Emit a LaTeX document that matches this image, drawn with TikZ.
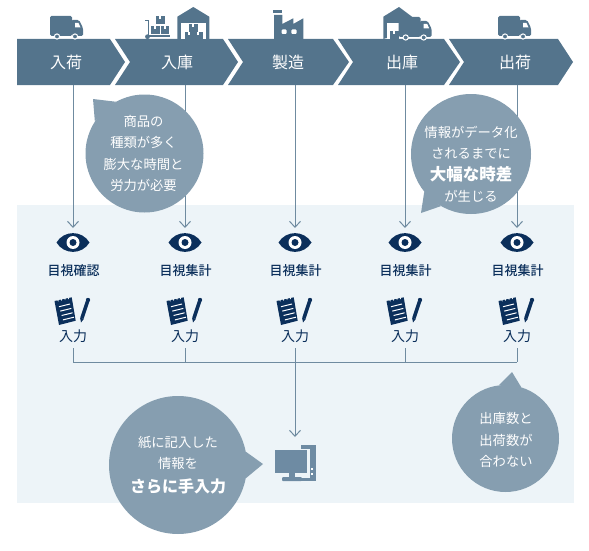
\documentclass[tikz,border=0pt]{standalone}
\usepackage{fontspec}
\setmainfont{Noto Sans CJK JP}
\newfontfamily\medfont{Noto Sans CJK JP Medium}
\usetikzlibrary{arrows.meta}
\definecolor{bandblue}{HTML}{54748C}
\definecolor{bubblegray}{HTML}{869EB0}
\definecolor{linegray}{HTML}{6F8BA0}
\definecolor{palebg}{HTML}{EDF4F8}
\definecolor{navy}{HTML}{0B2F5B}
\definecolor{pcblue}{HTML}{6E8BA3}
\tikzset{
  stepnode/.style={text=white,font=\fontsize{16}{16}\selectfont,minimum height=46pt,inner sep=0},
  readnode/.style={text=navy,font=\medfont\fontsize{13}{13}\selectfont,inner sep=0},
  keynode/.style={text=navy,font=\fontsize{14}{14}\selectfont,minimum height=24pt,inner sep=0},
  flow/.style={draw=linegray,line width=1pt},
  bubble/.style={circle,fill=bubblegray,inner sep=0},
  bubbletext/.style={text=white,align=center,inner sep=0,font=\fontsize{13.3}{21.5}\selectfont},
  truck/.pic={
    \fill[bandblue,rounded corners=1.5pt] (0,0) rectangle (22,20);
    \fill[bandblue,rounded corners=1.5pt] (21,4) -- (29,4) -- (33,12) -- (33,20) -- (21,20) -- cycle;
    \fill[white] (25,7) -- (28.5,7) -- (30.5,11.5) -- (25,11.5) -- cycle;
    \fill[bandblue,draw=white,line width=1pt] (7,20.5) circle (2.6);
    \fill[bandblue,draw=white,line width=1pt] (25,20.5) circle (2.6);
  },
  eye/.pic={
    \fill[navy] (-16.5,0) .. controls (-9,-12.5) and (9,-12.5) .. (16.5,0) .. controls (9,12.5) and (-9,12.5) .. (-16.5,0) -- cycle;
    \fill[white] (0,0) circle (6.5);
    \fill[navy] (0,0) circle (3.5);
  },
  memo/.pic={
    \fill[navy] (-18.5,-9) -- (-1.3,-12.7) -- (2.7,10.7) -- (-14,15) -- cycle;
    \foreach \k in {0,1,2,3}
      \draw[white,line width=1pt] (-14+1.3*\k,-3.3+4.4*\k) -- (-3+1.3*\k,-6+4.4*\k);
    \foreach \k in {1,2,3,4}
      \fill[palebg] (-18.5+3.45*\k-0.8,-9-0.74*\k-0.6) -- (-18.5+3.45*\k+0.8,-9-0.74*\k-0.9) -- (-18.5+3.45*\k+0.3,-9-0.74*\k+1.4) -- cycle;
    \draw[navy,line width=3.6pt] (14.5,-8.5) -- (9,8);
    \fill[navy] (7,7.5) -- (11,8.7) -- (8,12.5) -- cycle;
    \fill[navy] (15,-10) circle (2.2);
  },
  crate/.pic={
    \fill[bandblue] (0,0) rectangle (8.5,8);
    \fill[white] (3.2,0) rectangle (5.3,3);
  },
}
\begin{document}
\begin{tikzpicture}[x=1pt,y=-1pt,>={Straight Barb[length=6pt,width=11pt]}]
\useasboundingbox (0,0) rectangle (589,551);
\fill[palebg] (17,205) rectangle (574,503);

% process band
\foreach \l/\n/\r/\t in {17/17/110/125,115/130/223/238,228/243/333/349,338/353/444/460,449/464/558/573}
  \fill[bandblue] (\l,39) -- (\r,39) -- (\t,62) -- (\r,85) -- (\l,85) -- (\n,62) -- cycle;

% icons above the band
\pic at (50,16) {truck};
\pic at (498,16) {truck};
% hand cart
\draw[bandblue,line width=1.2pt] (145,20.7) -- (148.3,20.7) -- (148.3,36) -- (170,36);
\fill[bandblue] (147.5,36.7) circle (2.4);
\pic at (156,16) {crate};
\pic at (151,26) {crate};
\pic at (160.7,26) {crate};
% warehouse
\fill[bandblue] (193.3,7) -- (209.3,16.7) -- (209.3,39) -- (177.3,39) -- (177.3,16.7) -- cycle;
\fill[white] (181,23.3) rectangle (205.7,39);
\pic at (189,24) {crate};
\pic at (185,32) {crate};
\pic at (194,32) {crate};
% factory
\fill[bandblue] (274,39) -- (274,15) -- (282.3,15) -- (282.3,24) -- (293.3,18.3) -- (293.3,24) -- (303.3,18.3) -- (303.3,39) -- cycle;
\fill[bandblue] (273.3,10) rectangle (282.3,12.7);
\fill[white,rounded corners=1pt] (281.7,29.5) rectangle (286.7,34);
\fill[white,rounded corners=1pt] (291.3,29.5) rectangle (296.7,34);
% warehouse with truck
\fill[bandblue] (399,7) -- (412,16.7) -- (412,30) -- (383.3,39) -- (383.3,16.7) -- cycle;
\fill[white] (387.3,22.7) rectangle (399,39);
\pic at (390,31) {crate};
\pic at (398.7,17) {truck};

% steps and the columns below them
\foreach \i/\tx/\lx/\step/\read in {1/66/73/入荷/目視確認,2/177/185/入庫/目視集計,3/288/295/製造/目視集計,4/402/405/出庫/目視集計,5/515/517/出荷/目視集計}{
  \node[stepnode] (step\i) at (\tx,62) {\step};
  \coordinate (into\i) at (\lx,228);
  \draw[flow,->] (step\i.south -| into\i) -- (into\i);
  \pic at (\lx,242.5) {eye};
  \node[readnode] (read\i) at (\lx+0.5,271) {\read};
  \pic at (\lx,310) {memo};
  \node[keynode] (key\i) at (\lx,336) {入力};
}

% collecting line
\coordinate (hub) at (295,362);
\coordinate (pc) at (295,437);
\foreach \i in {1,2,4,5}
  \draw[flow] (key\i) -- (key\i |- hub);
\draw[flow] (key1 |- hub) -- (key5 |- hub);
\draw[flow,->] (key3) -- (pc);

% computer
\fill[pcblue] (301,445) rectangle (316,481);
\fill[palebg] (299,449) rectangle (310,478);
\fill[pcblue] (275,450) rectangle (307,473);
\fill[pcblue] (289,473) rectangle (295,477);
\fill[pcblue,rounded corners=1pt] (282,477) rectangle (302,481);
\fill[white] (311,468) rectangle (313,470);
\fill[white] (311,473) rectangle (313,475);

% speech bubbles
\node[bubble,minimum size=118pt] (bubblea) at (144.5,153.5) {};
\fill[bubblegray] (bubblea.147) -- (93,99) -- (bubblea.119) -- cycle;
\node[bubbletext] (texta) at (143.5,153.5) {商品の\\種類が多く\\膨大な時間と\\労力が必要};
\node[bubble,minimum size=120pt] (bubbleb) at (471,154) {};
\fill[bubblegray] (bubbleb.219) -- (421,213) -- (bubbleb.240) -- cycle;
\node[bubbletext] (textb) at (471,164) {情報がデータ化\\されるまでに\\{\fontsize{16.5}{22}\selectfont\bfseries 大幅な時差}\\が生じる};
\node[bubble,minimum size=107pt] (bubblec) at (505.5,438.5) {};
\fill[bubblegray] (bubblec.97) -- (512,372) -- (bubblec.73) -- cycle;
\node[bubbletext] (textc) at (506,440) {出庫数と\\出荷数が\\合わない};
\node[bubble,minimum size=138pt] (bubbled) at (178,465) {};
\fill[bubblegray] (bubbled.11) -- (263,464) -- (bubbled.-11) -- cycle;
\node[bubbletext] (textd) at (178,465) {紙に記入した\\情報を\\[2.5pt]{\fontsize{16}{22}\selectfont\bfseries さらに手入力}};
\end{tikzpicture}
\end{document}
